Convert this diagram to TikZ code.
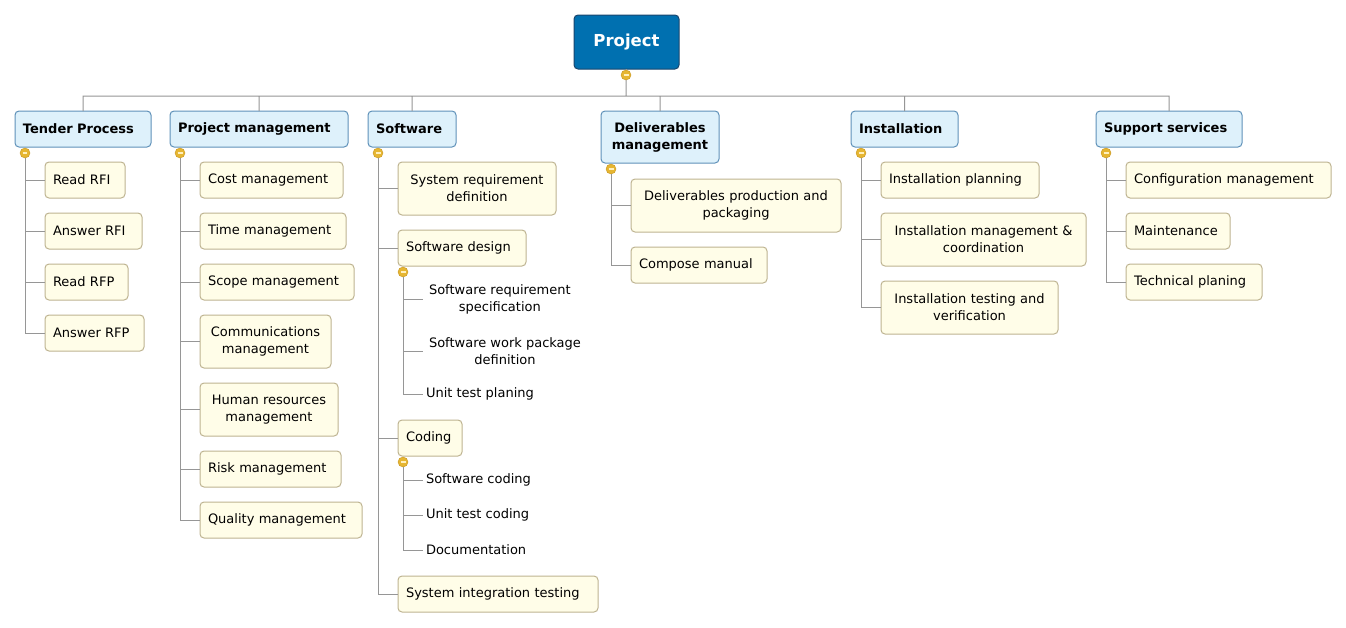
\documentclass[tikz,border=0pt]{standalone}
\usepackage{fontspec}
\setmainfont{DejaVu Sans}
\usetikzlibrary{positioning}
\definecolor{projfill}{RGB}{0,112,176}
\definecolor{projdraw}{RGB}{25,70,110}
\definecolor{branchfill}{RGB}{222,241,251}
\definecolor{branchdraw}{RGB}{95,145,185}
\definecolor{leaffill}{RGB}{255,253,232}
\definecolor{leafdraw}{RGB}{190,180,145}
\definecolor{togglefill}{RGB}{230,182,50}
\definecolor{toggledraw}{RGB}{200,150,30}
\definecolor{togglebar}{RGB}{255,240,190}
\definecolor{linkgray}{RGB}{150,150,150}
\begin{document}
\begin{tikzpicture}[x=1pt,y=-1pt,every node/.style={outer sep=0pt},
  root/.style={draw=projdraw,line width=1pt,fill=projfill,rounded corners=4pt,text=white,font=\fontsize{16.5}{20}\selectfont\bfseries,minimum width=105pt,minimum height=54pt},
  branch/.style={draw=branchdraw,line width=1pt,fill=branchfill,rounded corners=4pt,font=\fontsize{13}{17}\selectfont\bfseries,text width=#1,inner xsep=8pt,align=left,minimum height=36pt,anchor=north},
  branchtwo/.style={branch=#1,align=center,minimum height=52pt},
  leaf/.style={draw=leafdraw,line width=1pt,fill=leaffill,rounded corners=4pt,font=\fontsize{13}{17}\selectfont,text width=#1,inner xsep=8pt,align=left,minimum height=36pt,anchor=west},
  leaftwo/.style={leaf=#1,align=center,minimum height=53pt},
  bare/.style={font=\fontsize{13}{17}\selectfont,inner xsep=3pt,align=center,anchor=west},
  baretwo/.style={bare,inner xsep=6pt},
  toggle/.style={circle,draw=toggledraw,fill=togglefill,inner sep=0pt,minimum size=10pt},
  link/.style={draw=linkgray,line width=1pt}]
  \fill[white] (0,0) rectangle (1346,627);
  \useasboundingbox (0,0) rectangle (1346,627);

  \node[root] (proj) at (626.5,42) {Project};
  \coordinate (bus) at (626,96);

  \node[branch=120] (tender) at (83,111) {Tender Process};
  \node[branch=162] (pm) at (259,111) {Project management};
  \node[branch=72] (sw) at (412,111) {Software};
  \node[branchtwo=102] (deliv) at (660,111) {Deliverables\\management};
  \node[branch=91] (inst) at (904.5,111) {Installation};
  \node[branch=130] (supp) at (1169,111) {Support services};

  \node[leaf=64] (rrfi) at (45,180) {Read RFI};
  \node[leaf=81] (arfi) at (45,231) {Answer RFI};
  \node[leaf=67] (rrfp) at (45,282) {Read RFP};
  \node[leaf=83] (arfp) at (45,333) {Answer RFP};

  \node[leaf=127] (cost) at (200,180) {Cost management};
  \node[leaf=130] (time) at (200,231) {Time management};
  \node[leaf=138] (scope) at (200,282) {Scope management};
  \node[leaftwo=115] (comm) at (200,341.5) {Communications\\management};
  \node[leaftwo=122] (hr) at (200,409.5) {Human resources\\management};
  \node[leaf=125] (risk) at (200,469) {Risk management};
  \node[leaf=146] (qual) at (200,520) {Quality management};

  \node[leaftwo=142] (sysreq) at (398,188.5) {System requirement\\definition};
  \node[leaf=112] (swdes) at (398,248) {Software design};
  \node[baretwo] (srs) at (423,299) {Software requirement\\specification};
  \node[baretwo] (swp) at (423,351) {Software work package\\definition};
  \node[bare] (utp) at (423,394) {Unit test planing};
  \node[leaf=48] (coding) at (398,438) {Coding};
  \node[bare] (swc) at (423,480) {Software coding};
  \node[bare] (utc) at (423,515) {Unit test coding};
  \node[bare] (doc) at (423,550) {Documentation};
  \node[leaf=184] (sit) at (398,594) {System integration testing};

  \node[leaftwo=194] (dpp) at (631,205.5) {Deliverables production and\\packaging};
  \node[leaf=120] (cman) at (631,265) {Compose manual};

  \node[leaf=142] (iplan) at (881,180) {Installation planning};
  \node[leaftwo=189] (imc) at (881,239.5) {Installation management \&\\coordination};
  \node[leaftwo=161] (itv) at (881,307.5) {Installation testing and\\verification};

  \node[leaf=189] (conf) at (1126,180) {Configuration management};
  \node[leaf=88] (maint) at (1126,231) {Maintenance};
  \node[leaf=120] (tech) at (1126,282) {Technical planing};

  \draw[link] (proj) -- (bus)
    (bus) -| (tender.north) (bus) -| (pm.north) (bus) -| (sw.north)
    (bus) -| (deliv.north) (bus) -| (inst.north) (bus) -| (supp.north);

  \node[toggle] (tproj) at (626,75) {\textcolor{togglebar}{\rule[-0.6pt]{5pt}{1.2pt}}};
  \node[toggle] (ttender) at (25,153) {\textcolor{togglebar}{\rule[-0.6pt]{5pt}{1.2pt}}};
  \node[toggle] (tpm) at (180,153) {\textcolor{togglebar}{\rule[-0.6pt]{5pt}{1.2pt}}};
  \node[toggle] (tsw) at (378,153) {\textcolor{togglebar}{\rule[-0.6pt]{5pt}{1.2pt}}};
  \node[toggle] (tswdes) at (403,272) {\textcolor{togglebar}{\rule[-0.6pt]{5pt}{1.2pt}}};
  \node[toggle] (tcoding) at (403,462) {\textcolor{togglebar}{\rule[-0.6pt]{5pt}{1.2pt}}};
  \node[toggle] (tdeliv) at (611,169) {\textcolor{togglebar}{\rule[-0.6pt]{5pt}{1.2pt}}};
  \node[toggle] (tinst) at (861,153) {\textcolor{togglebar}{\rule[-0.6pt]{5pt}{1.2pt}}};
  \node[toggle] (tsupp) at (1106,153) {\textcolor{togglebar}{\rule[-0.6pt]{5pt}{1.2pt}}};

  \path[link]
    (ttender) |- (rrfi) (ttender) |- (arfi) (ttender) |- (rrfp) (ttender) |- (arfp)
    (tpm) |- (cost) (tpm) |- (time) (tpm) |- (scope) (tpm) |- (comm)
    (tpm) |- (hr) (tpm) |- (risk) (tpm) |- (qual)
    (tsw) |- (sysreq) (tsw) |- (swdes) (tsw) |- (coding) (tsw) |- (sit)
    (tswdes) |- (srs) (tswdes) |- (swp) (tswdes) |- (utp)
    (tcoding) |- (swc) (tcoding) |- (utc) (tcoding) |- (doc)
    (tdeliv) |- (dpp) (tdeliv) |- (cman)
    (tinst) |- (iplan) (tinst) |- (imc) (tinst) |- (itv)
    (tsupp) |- (conf) (tsupp) |- (maint) (tsupp) |- (tech);
\end{tikzpicture}
\end{document}
